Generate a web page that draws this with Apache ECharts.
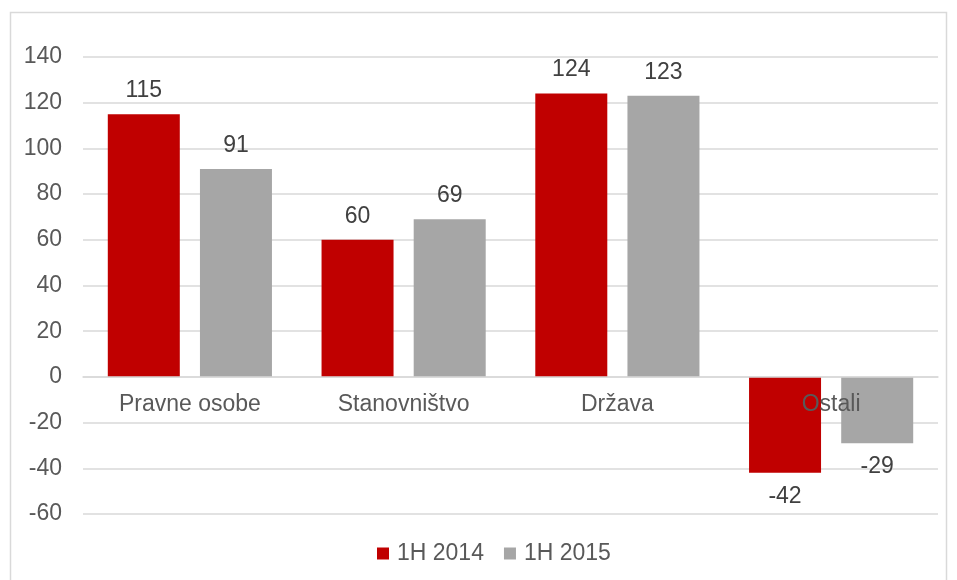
<!DOCTYPE html>
<html>
<head>
<meta charset="utf-8">
<script src="https://cdn.jsdelivr.net/npm/echarts@6/dist/echarts.min.js"></script>
<style>
  html, body { margin: 0; padding: 0; background: #fff; }
  #chart { width: 957px; height: 580px; }
</style>
</head>
<body>
<div id="chart"></div>
<script>
var categories = ['Pravne osobe', 'Stanovništvo', 'Država', 'Ostali'];
var seriesNames = ['1H 2014', '1H 2015'];
var values2014 = [115, 60, 124, -42];
var values2015 = [91, 69, 123, -29];
var yTicks = { min: -60, max: 140, step: 20 };

// negative bars get the label underneath
function withLabels(arr) {
    return arr.map(function (v) {
        if (v < 0) {
            return { value: v, label: { position: 'bottom' } };
        }
        return v;
    });
}

var gridTop = 57, gridBottom = 66;
var plotH = 580 - gridTop - gridBottom;
// move the category axis up to the zero line
var zeroOffset = plotH * (0 - yTicks.min) / (yTicks.max - yTicks.min);

var myChart = echarts.init(document.getElementById('chart'));
var option = {
    animation: false,
    textStyle: { fontFamily: 'Liberation Sans, Arial, sans-serif' },
    graphic: [{
        type: 'rect',
        shape: { x: 10.5, y: 12.5, width: 936, height: 580 },
        style: { fill: 'none', stroke: '#D9D9D9', lineWidth: 1.5 },
        z: -1
    }],
    grid: { left: 83, right: 19, top: gridTop, bottom: gridBottom },
    legend: {
        bottom: 10,
        left: 372,
        icon: 'rect',
        itemWidth: 12,
        itemHeight: 12,
        itemGap: 20,
        textStyle: { fontSize: 23, color: '#595959', padding: [0, 0, 0, 3] },
        data: seriesNames
    },
    xAxis: {
        type: 'category',
        data: categories,
        offset: -zeroOffset,
        z: 5,
        axisLine: { onZero: false, lineStyle: { color: '#D9D9D9', width: 1.5 } },
        axisTick: { show: false },
        axisLabel: { fontSize: 23, color: '#595959', margin: 16 }
    },
    yAxis: {
        type: 'value',
        min: yTicks.min,
        max: yTicks.max,
        interval: yTicks.step,
        axisLine: { show: false },
        axisTick: { show: false },
        axisLabel: { fontSize: 23, color: '#595959', margin: 21 },
        splitLine: { lineStyle: { color: '#D9D9D9', width: 1.5 } }
    },
    series: [
        {
            name: seriesNames[0],
            type: 'bar',
            barWidth: 72,
            barGap: '28%',
            itemStyle: { color: '#C00000' },
            label: { show: true, position: 'top', distance: 12, fontSize: 23, color: '#404040' },
            data: withLabels(values2014)
        },
        {
            name: seriesNames[1],
            type: 'bar',
            barWidth: 72,
            barGap: '28%',
            itemStyle: { color: '#A6A6A6' },
            label: { show: true, position: 'top', distance: 12, fontSize: 23, color: '#404040' },
            data: withLabels(values2015)
        }
    ]
};
myChart.setOption(option);
</script>
</body>
</html>
